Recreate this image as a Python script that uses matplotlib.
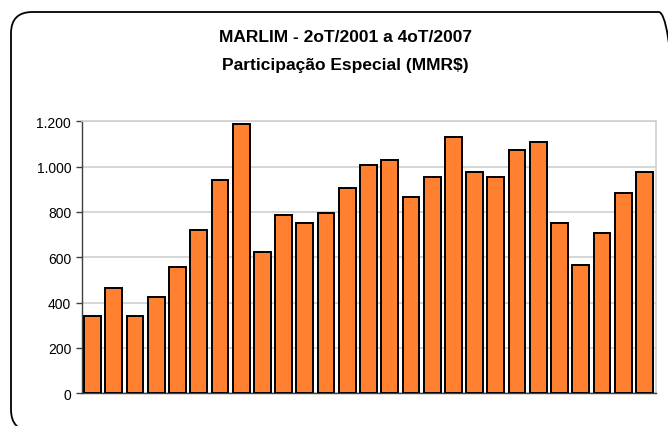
import matplotlib.pyplot as plt
from matplotlib.patches import FancyBboxPatch
from matplotlib.ticker import FuncFormatter

# quarters 2T/2001 .. 4T/2007
quarters = [f"{q}T/{y}" for y in range(2001, 2008) for q in range(1, 5)][1:]
values = [342, 463, 342, 426, 558, 721, 941, 1190, 625, 787, 750, 794, 904,
          1007, 1029, 867, 955, 1131, 977, 955, 1072, 1109, 750, 567, 706,
          882, 977]
yticks = [0, 200, 400, 600, 800, 1000, 1200]

plt.rcParams['font.family'] = ['Liberation Sans', 'DejaVu Sans']

W, H = 668, 427
fig = plt.figure(figsize=(W / 100, H / 100), dpi=100)

# rounded outer frame (partly cut off on the right/bottom)
frame = FancyBboxPatch((11 / W, (427 - 432) / H), (680 - 11) / W, (432 - 13) / H,
                       boxstyle="round,pad=0,rounding_size=0.032",
                       transform=fig.transFigure, facecolor='none',
                       edgecolor='black', linewidth=1.3, zorder=0,
                       mutation_aspect=W / H)
fig.patches.append(frame)

left, right, top, bottom = 82.3, 655.7, 122.3, 394.3
ax = fig.add_axes([left / W, (H - bottom) / H, (right - left) / W, (bottom - top) / H])
ax.set_facecolor('none')

x = list(range(len(values)))
ax.bar(x, values, width=0.79, color='#FF8030', edgecolor='black',
       linewidth=1.4, zorder=3)

ax.set_xlim(-0.485, len(values) - 0.47)
ax.set_ylim(0, 1200)
ax.set_yticks(yticks)
ax.yaxis.set_major_formatter(FuncFormatter(lambda v, p: f"{int(v):,}".replace(',', '.')))
ax.set_xticks([])
ax.tick_params(axis='y', length=4, width=1, color='#404040', labelsize=10,
               pad=4, labelcolor='black')
ax.grid(axis='y', color='#cfcfcf', linewidth=1.2, zorder=0)

for s in ['top', 'right']:
    ax.spines[s].set_color('#cfcfcf')
    ax.spines[s].set_linewidth(1.2)
ax.spines['left'].set_color('#404040')
ax.spines['bottom'].set_color('#404040')
ax.spines['left'].set_linewidth(1)
ax.spines['bottom'].set_linewidth(1)

fig.text(345 / W, 1 - 37 / H, "MARLIM - 2oT/2001 a 4oT/2007", ha='center',
         va='center', fontsize=12.5, fontweight='bold')
fig.text(345 / W, 1 - 66 / H, "Participação Especial (MMR$)", ha='center',
         va='center', fontsize=12.5, fontweight='bold')

fig.savefig('out.png', dpi=100, facecolor='white')
